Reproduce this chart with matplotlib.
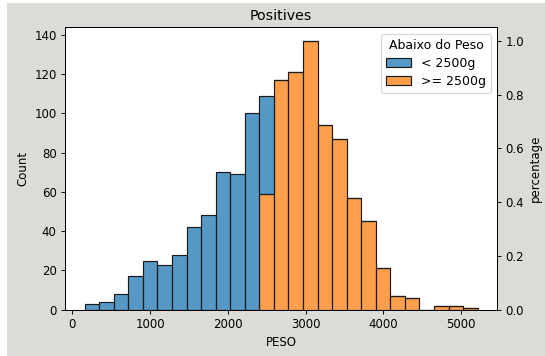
import numpy as np
import matplotlib
matplotlib.use("Agg")
import matplotlib.pyplot as plt
from matplotlib.patches import Rectangle
from matplotlib.colors import to_rgba

# histogram of birth weight (PESO), 27 equal bins
peso_edges = np.linspace(158, 5214, 28)
count_below = [3, 4, 8, 17, 25, 23, 28, 42, 48, 70, 69, 100, 50,
               0, 0, 0, 0, 0, 0, 0, 0, 0, 0, 0, 0, 0, 0]
count_above = [0, 0, 0, 0, 0, 0, 0, 0, 0, 0, 0, 0, 59,
               117, 121, 137, 94, 87, 57, 45, 21, 7, 6, 0, 2, 2, 1]
hue_labels = ["< 2500g", ">= 2500g"]
hue_colors = ["#1f77b4", "#ff7f0e"]

DPI = 85
fig = plt.figure(figsize=(545 / DPI, 356 / DPI), dpi=DPI)
fig.patch.set_facecolor("white")
fig.patches.append(Rectangle((7 / 545, 0), 1, 1 - 3 / 356,
                             transform=fig.transFigure, facecolor="#dcdbd7",
                             edgecolor="none", zorder=-10))

ax = fig.add_axes([65 / 545, 1 - 309.7 / 356, 432.3 / 545, 282.4 / 356])

left = peso_edges[:-1]
width = np.diff(peso_edges)
below = np.array(count_below)
above = np.array(count_above)
total = below + above

# stacked: ">= 2500g" at the bottom, "< 2500g" on top
ax.bar(left, above, width=width, align="edge",
       facecolor=to_rgba(hue_colors[1], 0.75), edgecolor="#1a1a1a",
       linewidth=1, label=hue_labels[1])
ax.bar(left, below, width=width, bottom=above, align="edge",
       facecolor=to_rgba(hue_colors[0], 0.75), edgecolor="#1a1a1a",
       linewidth=1, label=hue_labels[0])
ax.set_ylim(0, total.max() * 1.05)

ax.set_xlabel("PESO")
ax.set_ylabel("Count")
ax.set_title("Positives")

handles, labels = ax.get_legend_handles_labels()
ax.legend(handles[::-1], labels[::-1], title="Abaixo do Peso",
          loc="upper right", fontsize=10.6, title_fontsize=10.6,
          labelspacing=0.4)

# right axis: counts relative to the tallest bin
ax2 = ax.twinx()
ax2.set_ylim(0, 1.05)
ax2.set_ylabel("percentage")

fig.savefig("out.png", dpi=DPI, facecolor=fig.get_facecolor())
